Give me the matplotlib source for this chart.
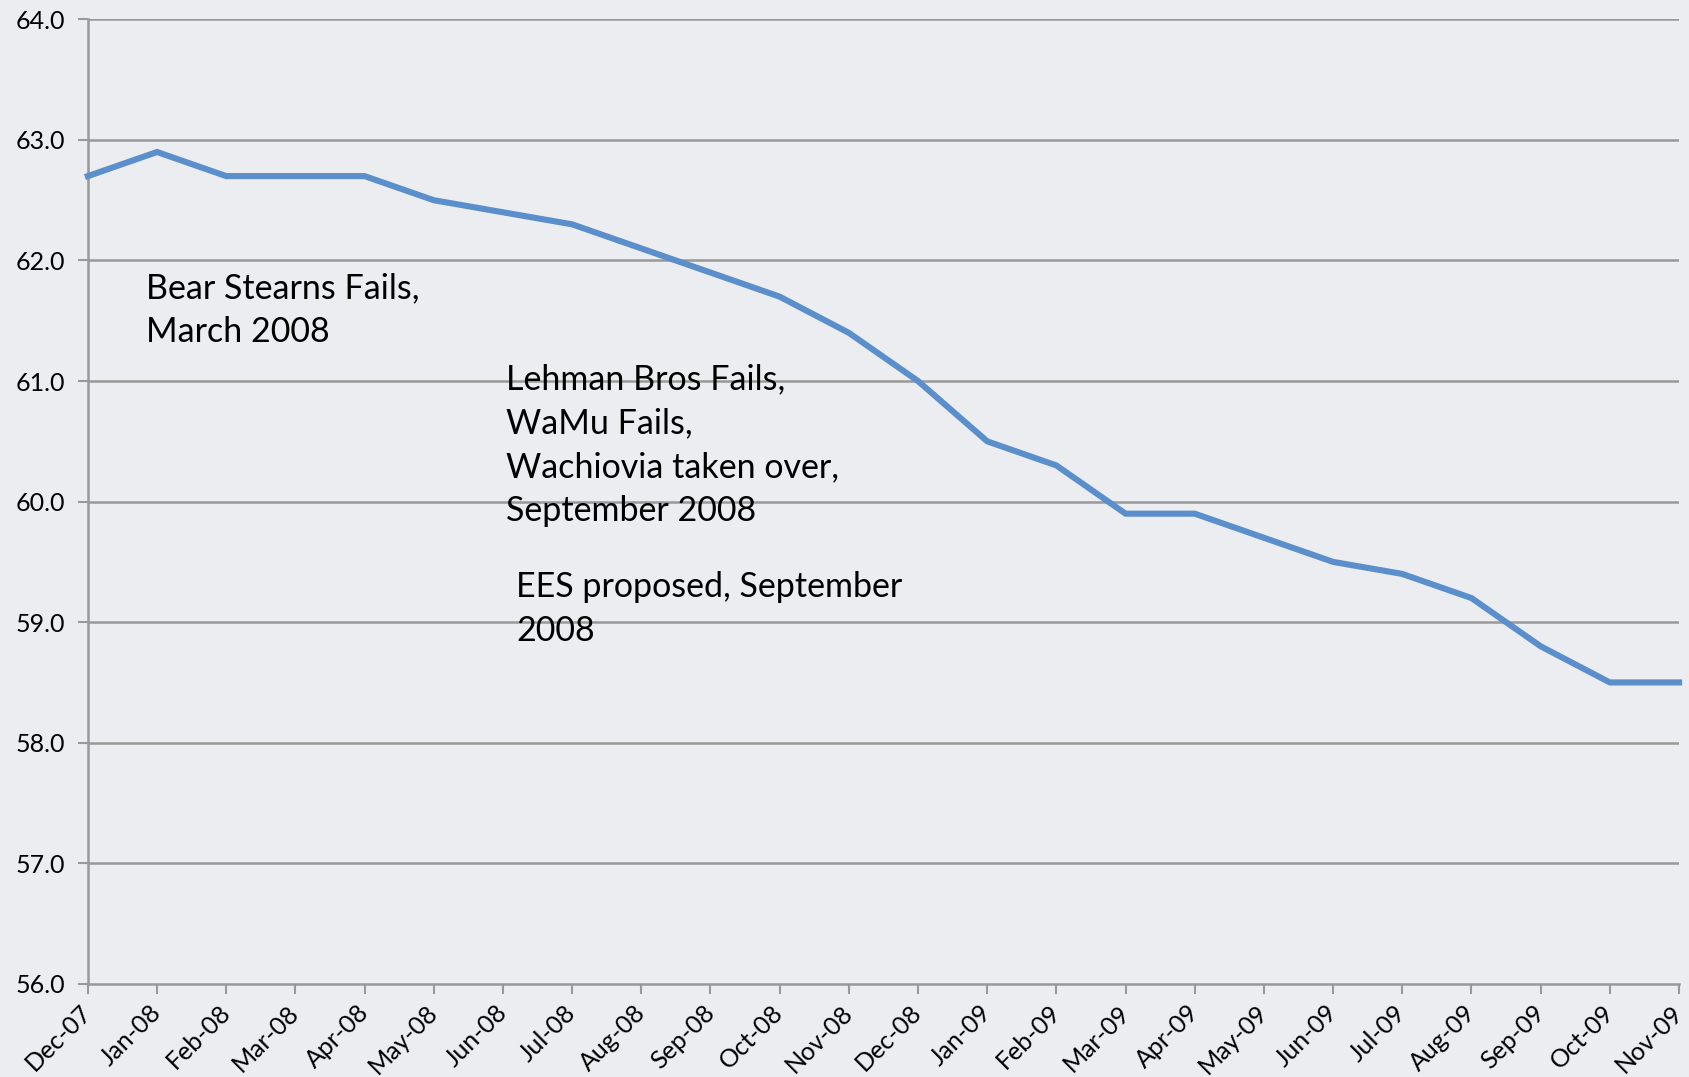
import matplotlib
matplotlib.use("Agg")
import matplotlib.pyplot as plt

months = ["Dec-07", "Jan-08", "Feb-08", "Mar-08", "Apr-08", "May-08", "Jun-08", "Jul-08",
          "Aug-08", "Sep-08", "Oct-08", "Nov-08", "Dec-08", "Jan-09", "Feb-09", "Mar-09",
          "Apr-09", "May-09", "Jun-09", "Jul-09", "Aug-09", "Sep-09", "Oct-09", "Nov-09"]
ratio = [62.7, 62.9, 62.7, 62.7, 62.7, 62.5, 62.4, 62.3, 62.1, 61.9, 61.7, 61.4,
         61.0, 60.5, 60.3, 59.9, 59.9, 59.7, 59.5, 59.4, 59.2, 58.8, 58.5, 58.5]
yticks = [56.0, 57.0, 58.0, 59.0, 60.0, 61.0, 62.0, 63.0, 64.0]
notes = ["Bear Stearns Fails,\nMarch 2008",
         "Lehman Bros Fails,\nWaMu Fails,\nWachiovia taken over,\nSeptember 2008",
         "EES proposed, September\n2008"]

bg = "#ECEDF0"
grid = "#999999"
plt.rcParams['font.family'] = ['Lato', 'DejaVu Sans']

fig = plt.figure(figsize=(16.9, 10.77), dpi=100, facecolor=bg)
ax = fig.add_axes([0.052, 0.0865, 0.9415, 0.8955])
ax.set_facecolor(bg)

x = list(range(len(months)))
ax.plot(x, ratio, color="#5A8FCB", lw=4.4, solid_joinstyle='miter', zorder=3, clip_on=False)

ax.set_xlim(0, len(months) - 1)
ax.set_ylim(56, 64)
ax.set_yticks(yticks)
ax.set_yticklabels([f"{v:.1f}" for v in yticks], fontsize=18)
ax.set_xticks(x)
ax.set_xticklabels(months, rotation=45, ha='right', va='center', rotation_mode='anchor', fontsize=18)

for v in yticks[1:]:
    ax.axhline(v, color=grid, lw=1.8, zorder=1)

for s in ['top', 'right']:
    ax.spines[s].set_visible(False)
for s in ['left', 'bottom']:
    ax.spines[s].set_color(grid)
    ax.spines[s].set_linewidth(1.8)
ax.tick_params(axis='both', colors=grid, length=7, width=1.5, labelcolor='black')
ax.tick_params(axis='x', pad=11)
ax.tick_params(axis='y', pad=9.5)

ax.text(0.84, 61.59, notes[0], fontsize=24.5, va='center', ha='left', linespacing=1.45)
ax.text(6.05, 60.47, notes[1], fontsize=24.5, va='center', ha='left', linespacing=1.45)
ax.text(6.19, 59.11, notes[2], fontsize=24.5, va='center', ha='left', linespacing=1.45)

fig.savefig("out.png", dpi=100, facecolor=bg)
